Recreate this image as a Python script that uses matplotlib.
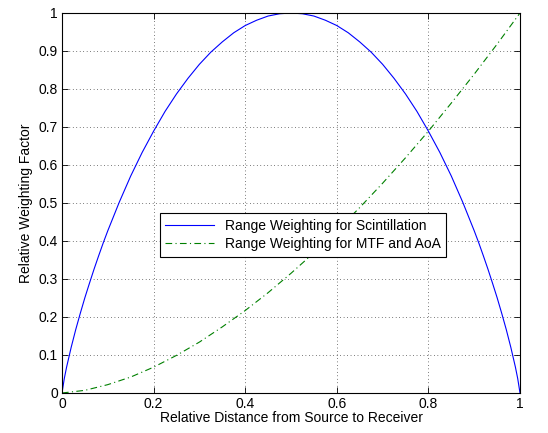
import matplotlib
matplotlib.use("Agg")
import matplotlib.pyplot as plt

# scintillation range weighting, left half up to the peak
x_half = [0, 0.005, 0.01, 0.02, 0.03, 0.04, 0.05, 0.06, 0.07, 0.08, 0.09, 0.1, 0.125, 0.15,
          0.175, 0.2, 0.225, 0.25, 0.275, 0.3, 0.325, 0.35, 0.375, 0.4, 0.425, 0.45, 0.475, 0.5]
y_half = [0, 0.038, 0.068, 0.120, 0.167, 0.210, 0.251, 0.289, 0.326, 0.361, 0.395, 0.427,
          0.502, 0.571, 0.633, 0.689, 0.741, 0.787, 0.828, 0.865, 0.897, 0.924, 0.948, 0.967,
          0.981, 0.992, 0.998, 1.0]
# the curve is symmetric about the midpoint
x_scint = x_half + [round(1 - v, 3) for v in reversed(x_half[:-1])]
y_scint = y_half + list(reversed(y_half[:-1]))

# MTF / AoA range weighting
x_mtf = [0, 0.05, 0.1, 0.15, 0.2, 0.25, 0.3, 0.35, 0.4, 0.45, 0.5, 0.55, 0.6, 0.65, 0.7,
         0.75, 0.8, 0.85, 0.9, 0.95, 1]
y_mtf = [0, 0.007, 0.022, 0.042, 0.068, 0.099, 0.134, 0.174, 0.217, 0.264, 0.315, 0.369,
         0.427, 0.488, 0.552, 0.619, 0.689, 0.763, 0.839, 0.918, 1.0]

xticks = [0, 0.2, 0.4, 0.6, 0.8, 1]
yticks = [0, 0.1, 0.2, 0.3, 0.4, 0.5, 0.6, 0.7, 0.8, 0.9, 1]
tick_labels_x = ["0", "0.2", "0.4", "0.6", "0.8", "1"]
tick_labels_y = ["0", "0.1", "0.2", "0.3", "0.4", "0.5", "0.6", "0.7", "0.8", "0.9", "1"]

plt.rcParams["font.family"] = ["Liberation Sans", "DejaVu Sans"]
plt.rcParams["font.size"] = 10

fig = plt.figure(figsize=(5.48, 4.33), dpi=100)
ax = fig.add_axes([62 / 548, 1 - 393 / 433, 458 / 548, 380 / 433])

ax.plot(x_scint, y_scint, color="#0000ff", lw=0.8, label="Range Weighting for Scintillation")
ax.plot(x_mtf, y_mtf, color="#008000", lw=0.8, ls=(0, (6, 3, 1, 3)),
        label="Range Weighting for MTF and AoA")

ax.set_xlim(0, 1); ax.set_ylim(0, 1)
ax.set_xticks(xticks); ax.set_xticklabels(tick_labels_x)
ax.set_yticks(yticks); ax.set_yticklabels(tick_labels_y)
ax.tick_params(direction="in", top=True, right=True, length=4, width=0.6, pad=3)
ax.grid(True, color="black", ls=(0, (1, 4)), lw=0.5)
for s in ax.spines.values():
    s.set_linewidth(0.8)

ax.set_xlabel("Relative Distance from Source to Receiver", labelpad=0)
ax.set_ylabel("Relative Weighting Factor", labelpad=4)

leg = ax.legend(loc="center", bbox_to_anchor=(303 / 548, 1 - 235 / 433),
                bbox_transform=fig.transFigure, fancybox=False, framealpha=1,
                edgecolor="black", handlelength=3.5, borderpad=0.4, labelspacing=0.3)
leg.get_frame().set_linewidth(0.8)

fig.savefig("out.png", dpi=100)
